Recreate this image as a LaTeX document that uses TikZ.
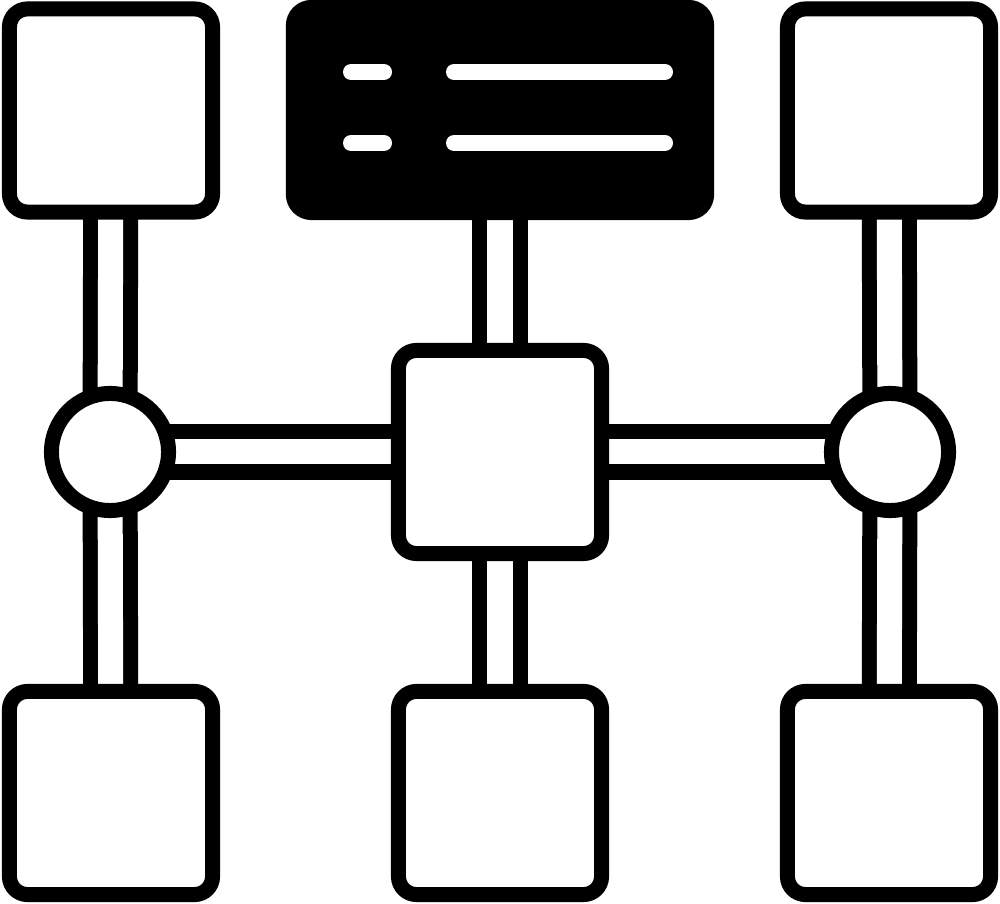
\documentclass[tikz,border=0pt]{standalone}
\usetikzlibrary{backgrounds}
\begin{document}
\begin{tikzpicture}[x=0.01cm,y=-0.01cm,
  box/.style={draw=black, fill=white, line width=0.15cm, rounded corners=0.18cm,
              minimum width=2.03cm, minimum height=2.03cm, inner sep=0pt, outer sep=0pt},
  darkbox/.style={box, fill=black, minimum width=4.13cm, minimum height=2.05cm},
  hub/.style={circle, draw=black, fill=white, line width=0.15cm, minimum size=1.17cm,
              inner sep=0pt, outer sep=0pt},
  bar/.style={draw=black, line width=0.15cm, double=white, double distance=0.25cm},
  textline/.style={draw=white, line width=0.16cm, line cap=round}]
\useasboundingbox (0,0) rectangle (1000,904);
% nodes
\node[box] (tl) at (111,110.5) {};
\node[darkbox] (tm) at (500,110) {};
\node[box] (tr) at (889,110.5) {};
\node[hub] (cl) at (110,452) {};
\node[box] (cc) at (500,452) {};
\node[hub] (cr) at (890,452) {};
\node[box] (bl) at (111,793) {};
\node[box] (bm) at (500,793) {};
\node[box] (br) at (889,793) {};
% text lines in the dark box
\draw[textline] (351,72) -- (384,72);
\draw[textline] (454,72) -- (665,72);
\draw[textline] (351,143) -- (384,143);
\draw[textline] (454,143) -- (665,143);
% connectors behind the nodes
\begin{scope}[on background layer]
\draw[bar] (tl.center) -- (cl.center);
\draw[bar] (cl.center) -- (bl.center);
\draw[bar] (tm.center) -- (cc.center);
\draw[bar] (cc.center) -- (bm.center);
\draw[bar] (tr.center) -- (cr.center);
\draw[bar] (cr.center) -- (br.center);
\draw[bar] (cl.center) -- (cc.center);
\draw[bar] (cc.center) -- (cr.center);
\end{scope}
\end{tikzpicture}
\end{document}
